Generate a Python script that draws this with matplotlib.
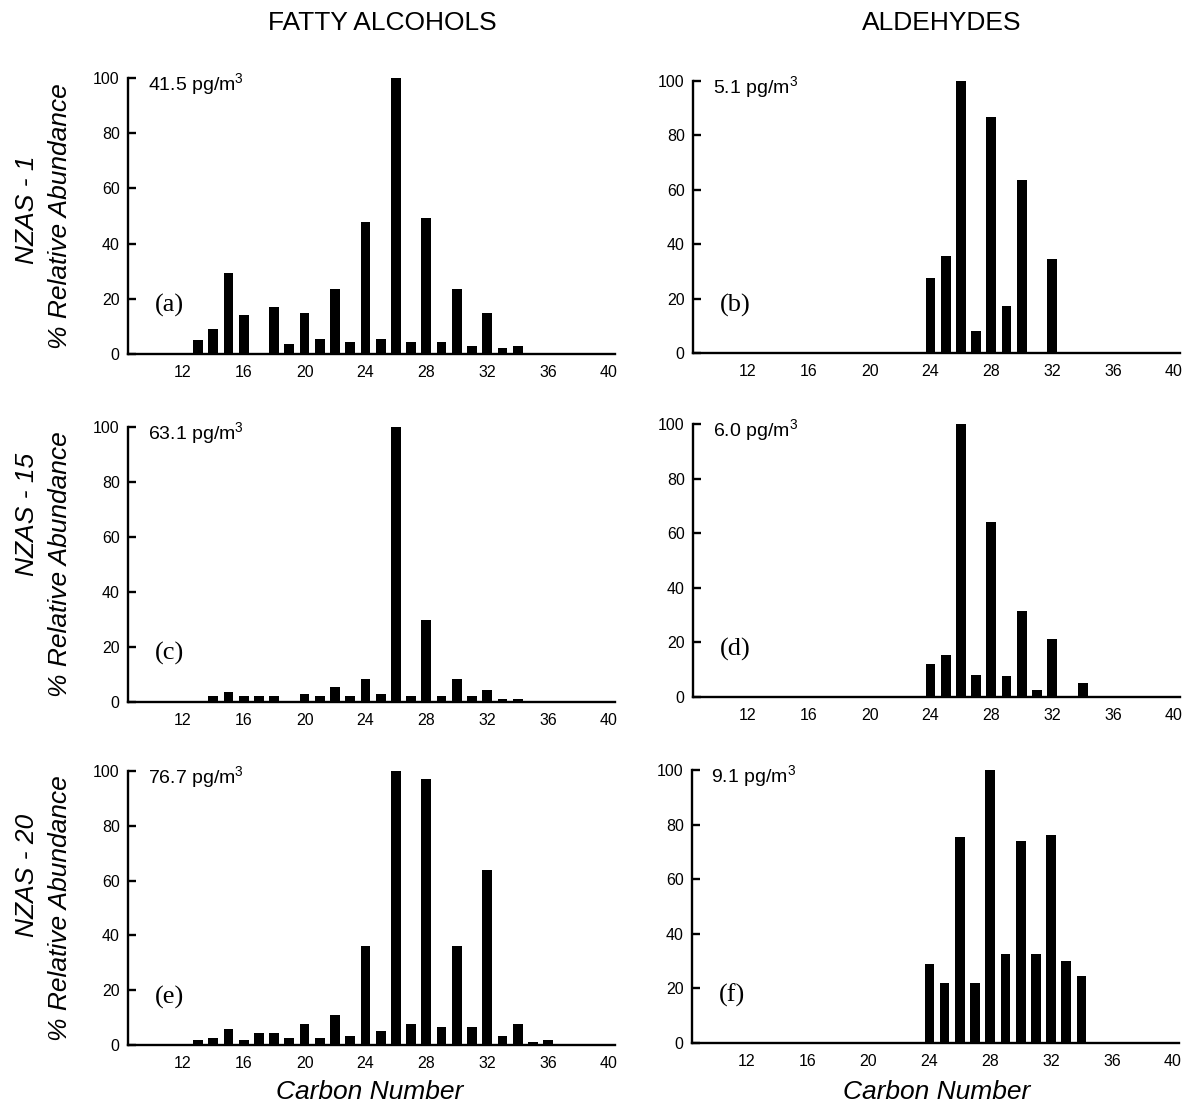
import matplotlib
matplotlib.use("Agg")
import matplotlib.pyplot as plt

# ---------------------------------------------------------------
# data (% relative abundance by carbon number)
# ---------------------------------------------------------------
alc_carbons_1 = list(range(13, 35))
alc_nzas_1 = [5.1, 9.2, 29.3, 14.0, 0, 17.2, 3.6, 14.8, 5.3, 23.6, 4.4,
              47.8, 5.3, 100, 4.5, 49.3, 4.5, 23.7, 3.0, 14.9, 2.0, 3.0]

ald_carbons_1 = list(range(24, 33))
ald_nzas_1 = [27.5, 35.6, 100, 8.2, 86.6, 17.1, 63.6, 0, 34.7]

alc_carbons_15 = list(range(14, 35))
alc_nzas_15 = [2.2, 3.8, 2.2, 2.2, 2.2, 0, 2.9, 2.2, 5.3, 2.2, 8.5,
               2.9, 100, 2.2, 30.0, 2.2, 8.5, 2.2, 4.5, 1.2, 1.2]

ald_carbons_15 = list(range(24, 35))
ald_nzas_15 = [12.2, 15.5, 100, 8.2, 64.1, 7.6, 31.6, 2.6, 21.3, 0, 5.0]

alc_carbons_20 = list(range(13, 37))
alc_nzas_20 = [1.8, 2.7, 5.8, 1.8, 4.3, 4.3, 2.7, 7.5, 2.7, 10.8, 3.4, 36.1,
               5.0, 100, 7.5, 97.1, 6.7, 36.1, 6.7, 64.0, 3.4, 7.5, 1.0, 1.8]

ald_carbons_20 = list(range(24, 35))
ald_nzas_20 = [29.1, 21.9, 75.4, 21.9, 100, 32.5, 73.8, 32.5, 76.1, 30.2, 24.5]

concentrations = ["41.5 pg/m$^3$", "5.1 pg/m$^3$", "63.1 pg/m$^3$",
                  "6.0 pg/m$^3$", "76.7 pg/m$^3$", "9.1 pg/m$^3$"]
panel_letters = ["(a)", "(b)", "(c)", "(d)", "(e)", "(f)"]
sample_names = ["NZAS - 1", "NZAS - 15", "NZAS - 20"]
column_titles = ["FATTY ALCOHOLS", "ALDEHYDES"]
x_ticks = [12, 16, 20, 24, 28, 32, 36, 40]
y_ticks = [0, 20, 40, 60, 80, 100]

panels = [
    (alc_carbons_1, alc_nzas_1), (ald_carbons_1, ald_nzas_1),
    (alc_carbons_15, alc_nzas_15), (ald_carbons_15, ald_nzas_15),
    (alc_carbons_20, alc_nzas_20), (ald_carbons_20, ald_nzas_20),
]

# axes boxes in figure fraction [left, bottom, width, height]
boxes = [
    [0.1075, 0.6805, 0.4089, 0.2491], [0.5819, 0.6814, 0.4089, 0.2455],
    [0.1075, 0.3664, 0.4089, 0.2482], [0.5819, 0.3709, 0.4089, 0.2464],
    [0.1075, 0.0569, 0.4089, 0.2473], [0.5810, 0.0587, 0.4089, 0.2464],
]

sans = ["Liberation Sans", "DejaVu Sans"]
serif = ["Liberation Serif", "DejaVu Serif"]
plt.rcParams["font.family"] = sans
plt.rcParams["mathtext.fontset"] = "custom"
plt.rcParams["mathtext.rm"] = "Liberation Sans"

W, H = 1191, 1108
fig = plt.figure(figsize=(W / 100, H / 100), dpi=100)

for i, (carbons, values) in enumerate(panels):
    ax = fig.add_axes(boxes[i])
    ax.bar(carbons, values, width=0.64, color="black", linewidth=0)
    ax.set_xlim(8.4, 40.4)
    ax.set_ylim(0, 100)
    ax.spines["top"].set_visible(False)
    ax.spines["right"].set_visible(False)
    ax.spines["left"].set_linewidth(1.7)
    ax.spines["bottom"].set_linewidth(1.7)
    ax.set_xticks(x_ticks)
    ax.set_yticks(y_ticks)
    ax.tick_params(axis="x", length=0, pad=8, labelsize=11.5)
    ax.tick_params(axis="y", direction="in", length=6, width=1.7, pad=6,
                   labelsize=11.5)
    ax.text(0.04, 0.975, concentrations[i], transform=ax.transAxes,
            fontsize=14, va="center", ha="left")
    ax.text(0.055, 0.175, panel_letters[i], transform=ax.transAxes,
            fontsize=19, family=serif, va="center", ha="left")

    # row label "% Relative Abundance" centred on the left axes
    if i % 2 == 0:
        b = boxes[i]
        fig.text(60 / W, b[1] + b[3] / 2, "% Relative Abundance",
                 fontsize=19, style="italic", rotation=90,
                 ha="center", va="center")

fig.text(382 / W, 1 - 23 / H, column_titles[0], fontsize=19,
         ha="center", va="center")
fig.text(942 / W, 1 - 23 / H, column_titles[1], fontsize=19,
         ha="center", va="center")

fig.text(370 / W, 1 - 1092 / H, "Carbon Number", fontsize=19,
         style="italic", ha="center", va="center")
fig.text(937 / W, 1 - 1092 / H, "Carbon Number", fontsize=19,
         style="italic", ha="center", va="center")

name_y = [210, 514, 875]
for name, y in zip(sample_names, name_y):
    fig.text(27 / W, 1 - y / H, name, fontsize=19, style="italic",
             rotation=90, ha="center", va="center")

fig.savefig("out.png", dpi=100)
